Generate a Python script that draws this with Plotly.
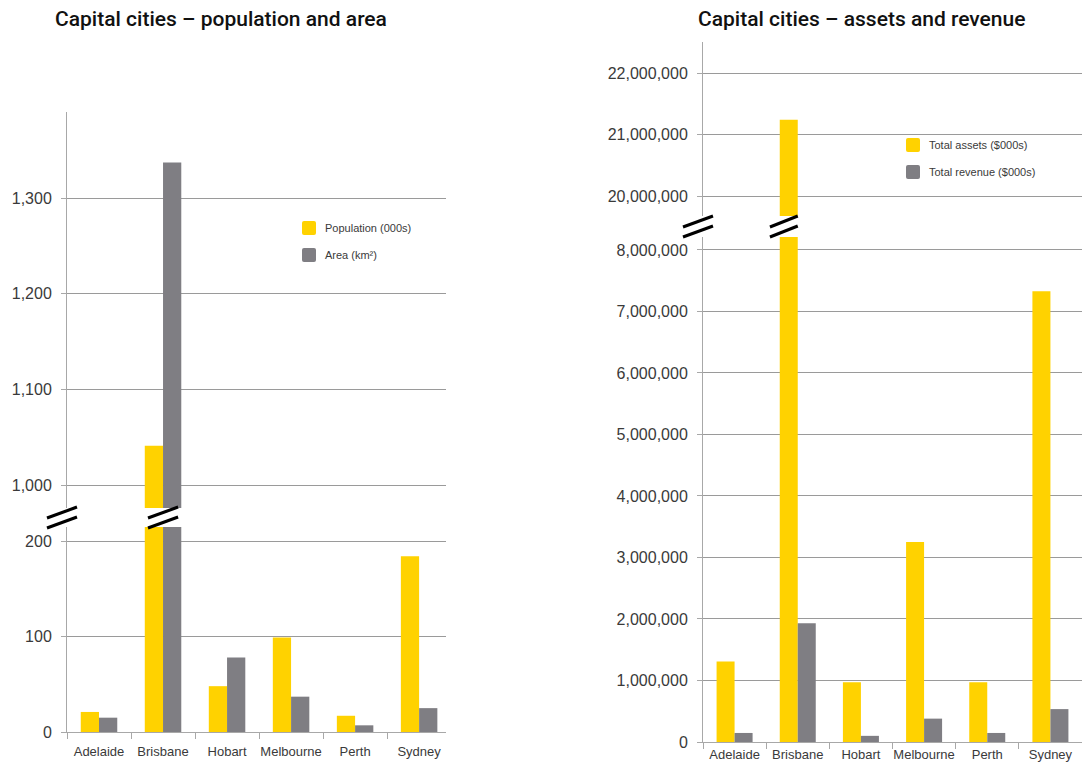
import plotly.graph_objects as go

# ---- data -------------------------------------------------------------
cities = ["Adelaide", "Brisbane", "Hobart", "Melbourne", "Perth", "Sydney"]

population_000s = [21, 1041, 48, 99, 17, 184]
area_km2 = [15, 1337, 78, 37, 7, 25]

total_assets_000s = [1310000, 21240000, 970000, 3250000, 970000, 7330000]
total_revenue_000s = [147000, 1930000, 100000, 380000, 147000, 535000]

left_series = ["Population (000s)", "Area (km²)"]
right_series = ["Total assets ($000s)", "Total revenue ($000s)"]

left_low_ticks = [0, 100, 200]
left_high_ticks = [1000, 1100, 1200, 1300]
right_low_ticks = [0, 1000000, 2000000, 3000000, 4000000, 5000000, 6000000, 7000000, 8000000]
right_high_ticks = [20000000, 21000000, 22000000]

# ---- styling ----------------------------------------------------------
W, H = 1085, 764
YELLOW = "#FFD200"
GREY = "#7F7E83"
GRID = "#9A9A9A"
AXIS = "#A8A8A8"
TICK_FONT = dict(family="Liberation Sans, Arial, sans-serif", size=16, color="#3A3A3A")
CAT_FONT = dict(family="Liberation Sans, Arial, sans-serif", size=13, color="#3A3A3A")
TITLE_FONT = dict(family="Roboto, Liberation Sans, sans-serif", size=21, color="#111111", weight=500)
LEG_FONT = dict(family="Liberation Sans, Arial, sans-serif", size=11, color="#3A3A3A")


def px_x(p):
    return p / W


def px_y(p):
    return 1 - p / H


fig = go.Figure()

# each panel = lower axis (small values) + upper axis (large values) sharing x
panels = [
    dict(xa="x", ya="y", cols=[population_000s, area_km2], names=left_series),
    dict(xa="x2", ya="y2", cols=[population_000s, area_km2], names=left_series),
    dict(xa="x3", ya="y3", cols=[total_assets_000s, total_revenue_000s], names=right_series),
    dict(xa="x4", ya="y4", cols=[total_assets_000s, total_revenue_000s], names=right_series),
]

for p in panels:
    for vals, name, col in zip(p["cols"], p["names"], [YELLOW, GREY]):
        fig.add_trace(go.Bar(
            x=cities, y=vals, name=name, marker=dict(color=col, line=dict(width=0)),
            xaxis=p["xa"], yaxis=p["ya"], showlegend=False, cliponaxis=True,
        ))

common_y = dict(
    showgrid=True, gridcolor=GRID, gridwidth=1, zeroline=False,
    showline=True, linecolor=AXIS, linewidth=1,
    ticks="outside", ticklen=5, tickcolor=AXIS, tickfont=TICK_FONT,
    tickformat=",d", ticklabelstandoff=6, automargin=False,
)
cat_x = dict(showline=True, linecolor=AXIS, ticks="outside", tickson="boundaries",
             ticklen=6, tickcolor=AXIS, tickfont=CAT_FONT, showgrid=False,
             tickangle=0, automargin=False)
hidden_x = dict(showticklabels=False, showline=False, ticks="", showgrid=False, automargin=False)

fig.update_layout(
    width=W, height=H,
    margin=dict(l=0, r=0, t=0, b=0, autoexpand=False),
    paper_bgcolor="white", plot_bgcolor="white",
    barmode="group", bargap=0.43, bargroupgap=0,
    # left panel, lower part
    xaxis=dict(domain=[px_x(67), px_x(446)], range=[-0.5, 5.42], anchor="y",
               ticklabelstandoff=7, **cat_x),
    yaxis=dict(domain=[px_y(732), px_y(527)], range=[0, 214.7], tickvals=left_low_ticks,
               anchor="x", **common_y),
    # left panel, upper part
    xaxis2=dict(domain=[px_x(67), px_x(446)], range=[-0.5, 5.42], anchor="y2",
                matches="x", **hidden_x),
    yaxis2=dict(domain=[px_y(508), px_y(112)], range=[975.96, 1389.9], tickvals=left_high_ticks,
                anchor="x2", **common_y),
    # right panel, lower part (labels kept tight to stay inside the page)
    xaxis3=dict(domain=[px_x(703), px_x(1082)], range=[-0.5, 5.5], anchor="y3",
                ticklabelstandoff=0, **cat_x),
    yaxis3=dict(domain=[px_y(742), px_y(237)], range=[0, 8211000], tickvals=right_low_ticks,
                anchor="x3", **common_y),
    # right panel, upper part
    xaxis4=dict(domain=[px_x(703), px_x(1082)], range=[-0.5, 5.5], anchor="y4",
                matches="x3", **hidden_x),
    yaxis4=dict(domain=[px_y(216), px_y(42)], range=[19675000, 22504000], tickvals=right_high_ticks,
                anchor="x4", **common_y),
)

shapes = []
annotations = []


def break_marks(xref, xc_px=None, xc_data=None, half=0.235, y_top=None):
    """Two parallel slanted strokes marking an axis break."""
    for dy in (0, 10):
        if xref == "paper":
            x0, x1 = px_x(xc_px - 15), px_x(xc_px + 15)
        else:
            x0, x1 = xc_data - half, xc_data + half
        shapes.append(dict(type="line", xref=xref, yref="paper",
                           x0=x0, x1=x1,
                           y0=px_y(y_top + 11 + dy), y1=px_y(y_top + dy),
                           line=dict(color="black", width=3)))


# breaks on the value axes and across the tall Brisbane bars
brisbane = cities.index("Brisbane")
break_marks("paper", xc_px=62, y_top=507)
break_marks("x", xc_data=brisbane, y_top=507)
break_marks("paper", xc_px=698, y_top=216)
break_marks("x3", xc_data=brisbane - 0.22, half=0.22, y_top=216)

# panel titles
annotations.append(dict(text="Capital cities – population and area", x=px_x(53), y=px_y(19),
                        xref="paper", yref="paper", xanchor="left", yanchor="middle",
                        showarrow=False, font=TITLE_FONT))
annotations.append(dict(text="Capital cities – assets and revenue", x=px_x(696), y=px_y(19),
                        xref="paper", yref="paper", xanchor="left", yanchor="middle",
                        showarrow=False, font=TITLE_FONT))


def legend(x_px, y_px, names):
    for i, (name, col) in enumerate(zip(names, [YELLOW, GREY])):
        yc = y_px + i * 27
        x0, x1 = x_px, x_px + 14
        y0, y1 = yc - 7, yc + 7
        r = 2
        path = (f"M{px_x(x0 + r)},{px_y(y0)} L{px_x(x1 - r)},{px_y(y0)} "
                f"Q{px_x(x1)},{px_y(y0)} {px_x(x1)},{px_y(y0 + r)} "
                f"L{px_x(x1)},{px_y(y1 - r)} Q{px_x(x1)},{px_y(y1)} {px_x(x1 - r)},{px_y(y1)} "
                f"L{px_x(x0 + r)},{px_y(y1)} Q{px_x(x0)},{px_y(y1)} {px_x(x0)},{px_y(y1 - r)} "
                f"L{px_x(x0)},{px_y(y0 + r)} Q{px_x(x0)},{px_y(y0)} {px_x(x0 + r)},{px_y(y0)} Z")
        shapes.append(dict(type="path", xref="paper", yref="paper", path=path,
                           fillcolor=col, line=dict(width=0)))
        annotations.append(dict(text=name, x=px_x(x1 + 7), y=px_y(yc), xref="paper", yref="paper",
                                xanchor="left", yanchor="middle", showarrow=False, font=LEG_FONT))


legend(302, 228, left_series)
legend(906, 145, right_series)

fig.update_layout(shapes=shapes, annotations=annotations)

fig.write_html("out.html")
